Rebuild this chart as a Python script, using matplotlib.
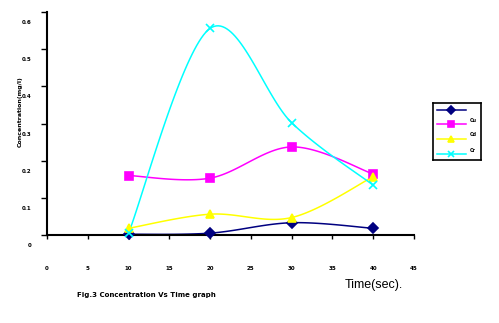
import matplotlib
matplotlib.use("Agg")
import matplotlib.pyplot as plt
import matplotlib.transforms as mtransforms
from matplotlib.lines import Line2D
import numpy as np

# sampling times (sec) and measured concentrations (mg/l)
time_sec = [10, 20, 30, 40]
series_names = ["Pb", "Cu", "Cd", "Cr"]
conc_navy = [0.002, 0.005, 0.033, 0.018]
conc_magenta = [0.160, 0.153, 0.237, 0.164]
conc_yellow = [0.018, 0.056, 0.047, 0.157]
conc_cyan = [0.005, 0.556, 0.302, 0.134]

x_ticks = [0, 5, 10, 15, 20, 25, 30, 35, 40, 45]
y_ticks = [0, 0.1, 0.2, 0.3, 0.4, 0.5, 0.6]

styles = [
    dict(color="#000080", marker="D", ms=5),
    dict(color="#FF00FF", marker="s", ms=6),
    dict(color="#FFFF00", marker="^", ms=6),
    dict(color="#00FFFF", marker="x", ms=6),
]


def smooth(xs, ys, n=40):
    """Catmull-Rom curve through the points (Excel style smoothed line)."""
    p = np.column_stack([xs, ys]).astype(float)
    p = np.vstack([p[0], p, p[-1]])
    out = []
    t = np.linspace(0, 1, n)[:, None]
    for i in range(1, len(p) - 2):
        p0, p1, p2, p3 = p[i - 1], p[i], p[i + 1], p[i + 2]
        seg = 0.5 * ((2 * p1) + (-p0 + p2) * t
                     + (2 * p0 - 5 * p1 + 4 * p2 - p3) * t ** 2
                     + (-p0 + 3 * p1 - 3 * p2 + p3) * t ** 3)
        out.append(seg)
    out = np.vstack(out)
    return out[:, 0], out[:, 1]


fig = plt.figure(figsize=(4.99, 3.23), dpi=100)
fig.patch.set_facecolor("white")
ax = fig.add_axes([47 / 499, 1 - 235 / 323, 367 / 499, 223 / 323])

all_series = [conc_navy, conc_magenta, conc_yellow, conc_cyan]
for vals, st in zip(all_series, styles):
    sx, sy = smooth(time_sec, vals)
    ax.plot(sx, sy, color=st["color"], lw=1.1, zorder=2, clip_on=False)
    ax.plot(time_sec, vals, ls="none", marker=st["marker"], ms=st["ms"],
            color=st["color"], mec=st["color"], mew=1.2, zorder=3, clip_on=False)

ax.set_xlim(0, 45)
ax.set_ylim(0, 0.6)
for side in ["top", "right"]:
    ax.spines[side].set_visible(False)
for side in ["left", "bottom"]:
    ax.spines[side].set_linewidth(1.5)
    ax.spines[side].set_color("black")

ax.set_xticks(x_ticks)
ax.set_xticklabels([str(v) for v in x_ticks])
ax.set_yticks(y_ticks)
ax.set_yticklabels(["0" if v == 0 else f"{v:.1f}" for v in y_ticks])
ax.tick_params(axis="x", direction="out", length=3, width=1, pad=19,
               labelsize=4)
ax.tick_params(axis="y", direction="out", length=4, width=1, pad=7,
               labelsize=4)
for lbl in ax.get_xticklabels() + ax.get_yticklabels():
    lbl.set_fontweight("bold")
# y labels sit a little below their ticks
shift = mtransforms.ScaledTranslation(0, -0.10, fig.dpi_scale_trans)
for lbl in ax.get_yticklabels():
    lbl.set_transform(lbl.get_transform() + shift)

fig.text(20 / 499, 1 - 112 / 323, "Concentration(mg/l)", rotation=90,
         ha="center", va="center", fontsize=4.5, fontweight="bold")
fig.text(374 / 499, 1 - 285 / 323, "Time(sec).", ha="center", va="center",
         fontsize=9, family="Liberation Sans")
fig.text(146 / 499, 1 - 295 / 323, "Fig.3 Concentration Vs Time graph",
         ha="center", va="center", fontsize=5, fontweight="bold")

# legend box
lax = fig.add_axes([433 / 499, 1 - 160 / 323, 48 / 499, 57 / 323])
lax.set_xlim(433, 481)
lax.set_ylim(160, 103)
lax.set_xticks([])
lax.set_yticks([])
for sp in lax.spines.values():
    sp.set_linewidth(1.2)
    sp.set_color("black")
entry_y = [110, 124, 139, 154]
for i, (st, name, yy) in enumerate(zip(styles, series_names, entry_y)):
    lax.add_line(Line2D([437, 466], [yy, yy], color=st["color"], lw=1.1))
    lax.plot([451], [yy], marker=st["marker"], ms=st["ms"] - 1,
             color=st["color"], mew=1.2)
    if i > 0:
        lax.text(470, yy - 4, name, fontsize=3.5, fontweight="bold",
                 ha="left", va="center")

fig.savefig("out.png", dpi=100, facecolor="white")
